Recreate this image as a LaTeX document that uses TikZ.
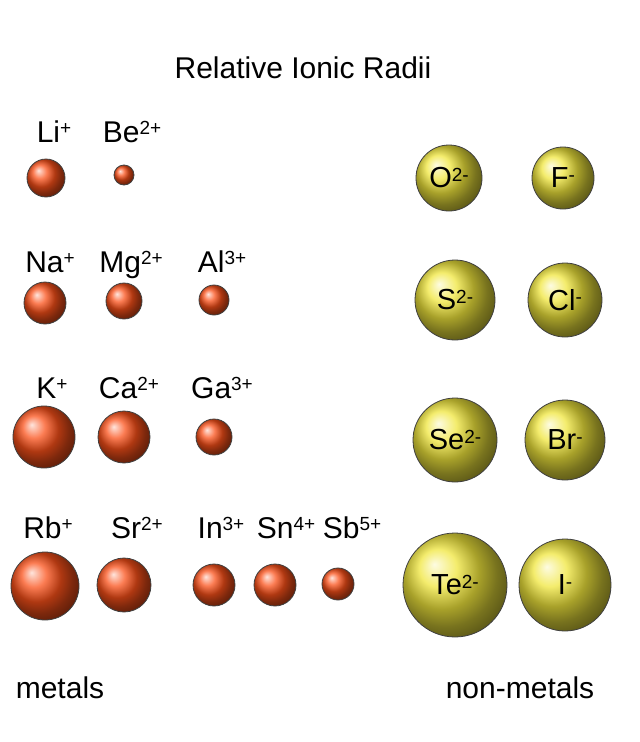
\documentclass[tikz,border=0pt]{standalone}
\usepackage{fontspec}
\setmainfont{Liberation Sans}
\definecolor{metal}{RGB}{250,80,25}
\definecolor{nonmetal}{RGB}{240,230,60}
\newcommand{\chg}[1]{\raisebox{0.45ex}{\fontsize{19}{19}\selectfont #1}}
\begin{document}
\begin{tikzpicture}[x=1pt,y=-1pt,
  met/.style={circle,draw=black!75,line width=0.8pt,ball color=metal,inner sep=0pt},
  non/.style={circle,draw=black!75,line width=0.8pt,ball color=nonmetal,inner sep=0pt,font=\fontsize{29}{29}\selectfont},
  lab/.style={font=\fontsize{30}{30}\selectfont,inner sep=0pt,anchor=base}]
\useasboundingbox (0,0) rectangle (640,742);
\fill[white] (0,0) rectangle (640,742);
\node[lab] (title) at (303,78) {Relative Ionic Radii};
% metals
\foreach \n/\x/\y/\r in {li/46/178/19, be/124/175/10, na/45/303/21, mg/124/301/18, al/214/300/15,
  k/44/437/31, ca/124/437/26, ga/214/437/18, rb/45/586/34, sr/124/585/27, in/214/585/21, sn/275/585/21, sb/338/584/16}
  \node[met,minimum size=2*\r] (\n) at (\x,\y) {};
\foreach \n/\x/\y/\t in {lli/54/142/{Li\chg{+}}, lbe/132/142/{Be\chg{2+}},
  lna/50/272/{Na\chg{+}}, lmg/131/272/{Mg\chg{2+}}, lal/222/272/{Al\chg{3+}},
  lk/52/398/{K\chg{+}}, lca/129/398/{Ca\chg{2+}}, lga/222/398/{Ga\chg{3+}},
  lrb/48/538/{Rb\chg{+}}, lsr/137/538/{Sr\chg{2+}}, lin/221/538/{In\chg{3+}},
  lsn/286/538/{Sn\chg{4+}}, lsb/352/538/{Sb\chg{5+}}}
  \node[lab] (\n) at (\x,\y) {\t};
% non-metals
\foreach \n/\x/\y/\r/\t in {o/449/178/33/{O\chg{2-}}, f/563/178/31/{F\chg{-}},
  s/455/300/40/{S\chg{2-}}, cl/565/300/37/{Cl\chg{-}},
  se/455/440/42/{Se\chg{2-}}, br/565/440/40/{Br\chg{-}},
  te/455/585/52/{Te\chg{2-}}, i/565/585/46/{I\chg{-}}}
  \node[non,minimum size=2*\r] (\n) at (\x,\y) {\t};
\node[lab] (metals) at (60,698) {metals};
\node[lab] (nonmetals) at (520,698) {non-metals};
\end{tikzpicture}
\end{document}
